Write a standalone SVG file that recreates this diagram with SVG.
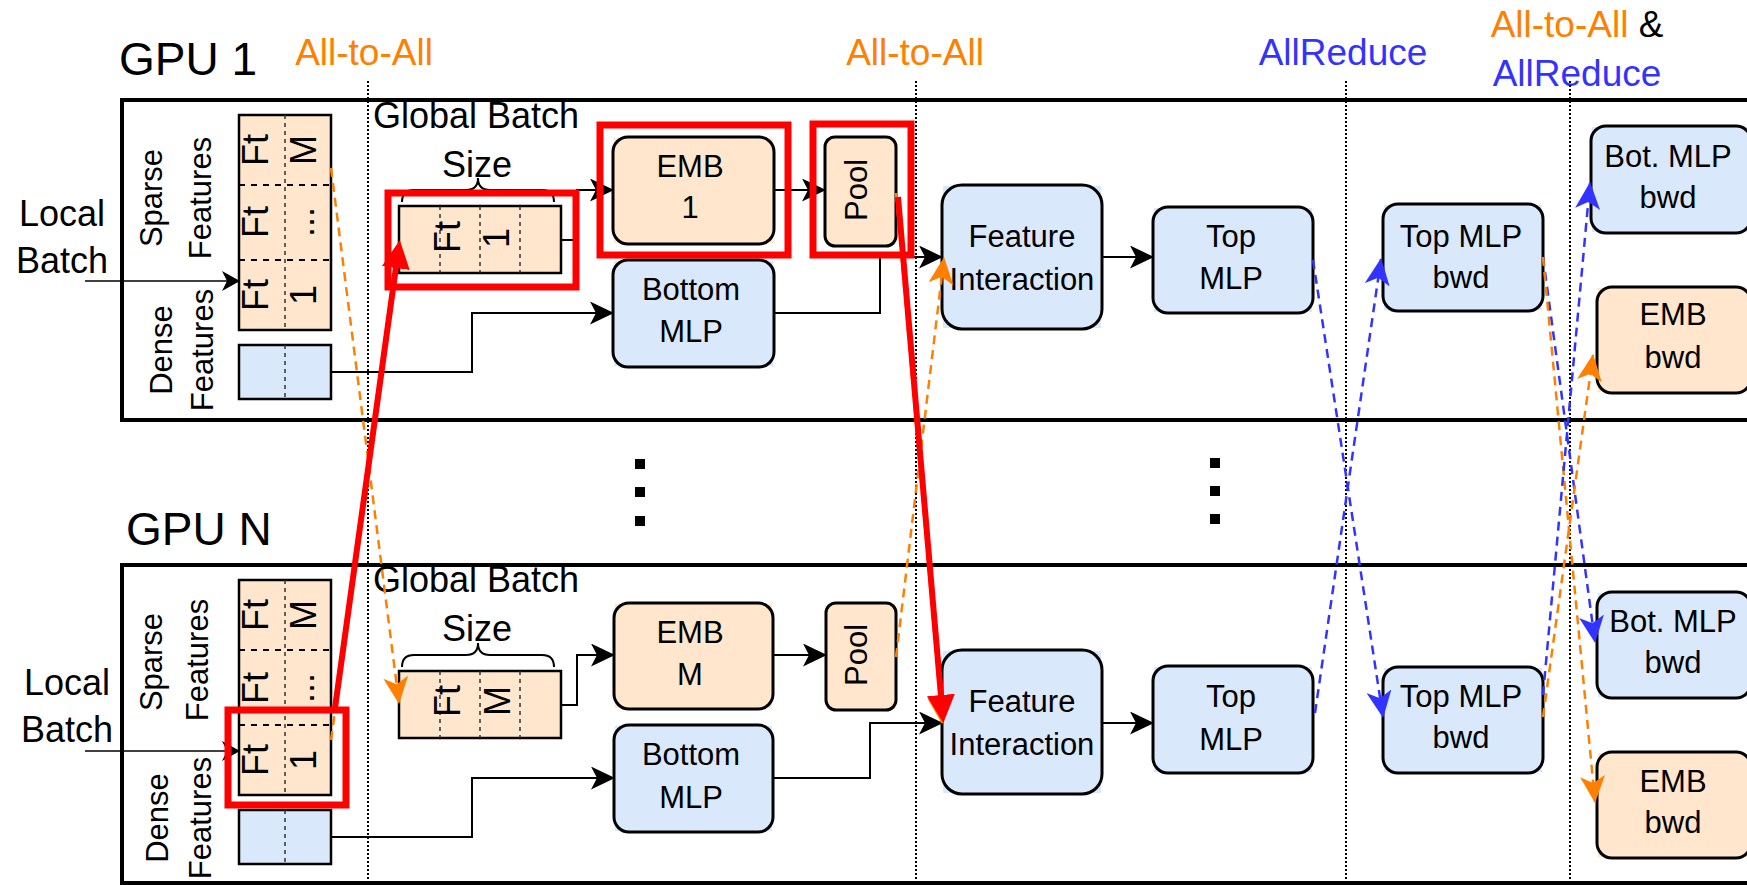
<svg xmlns="http://www.w3.org/2000/svg" width="1747" height="885" viewBox="0 0 1747 885">
<defs>
<style>
text{font-family:"Liberation Sans",Arial,Helvetica,sans-serif;fill:#000}
.title{font-size:46px}
.coll{font-size:37px;text-anchor:middle}
.or{fill:#FF8000}
.bl{fill:#3333FF}
.lbl{font-size:36px;text-anchor:middle}
.side{font-size:31px;text-anchor:middle}
.cell{font-size:36px;text-anchor:middle}
.nt{font-size:31px;text-anchor:middle}
.pool{font-size:31px;text-anchor:middle}
.gpu{fill:#fff;stroke:#000;stroke-width:4}
.blueF{fill:#DAE8FC}
.peachF{fill:#FFE6CC}
.box{stroke:#000;stroke-width:3}
.tbl{stroke:#000;stroke-width:2.5}
.hd{stroke:#000;stroke-width:2;stroke-dasharray:6 6;fill:none}
.vd{stroke:#333;stroke-width:1.5;stroke-dasharray:4 4;fill:none}
.sep{stroke:#000;stroke-width:2;stroke-dasharray:2 2;fill:none}
.wire{stroke:#000;stroke-width:2;fill:none;marker-end:url(#ah)}
.thin{stroke:#000;stroke-width:1.5;fill:none;marker-end:url(#ahs)}
.brace{stroke:#000;stroke-width:2;fill:none}
.oD{stroke:#FF8000;stroke-width:2.5;stroke-dasharray:9 6;fill:none;marker-end:url(#ao)}
.bD{stroke:#3333FF;stroke-width:2.5;stroke-dasharray:9 6;fill:none;marker-end:url(#ab)}
.hl{fill:none;stroke:#FF0000;stroke-width:7}
.rA{stroke:#FF0000;stroke-width:6;fill:none;marker-end:url(#ar)}
.dot{fill:#000}
</style>
<marker id="ah" markerUnits="userSpaceOnUse" markerWidth="24" markerHeight="23" refX="23" refY="11.5" orient="auto" viewBox="0 0 24 23"><path d="M0,0 L24,11.5 L0,23 L6,11.5 Z" fill="#000"/></marker>
<marker id="ahs" markerUnits="userSpaceOnUse" markerWidth="18" markerHeight="20" refX="17" refY="10" orient="auto" viewBox="0 0 18 20"><path d="M0,0 L18,10 L0,20 L5,10 Z" fill="#000"/></marker>
<marker id="ao" markerUnits="userSpaceOnUse" markerWidth="27" markerHeight="25" refX="26" refY="12.5" orient="auto" viewBox="0 0 27 25"><path d="M0,0 L27,12.5 L0,25 L7,12.5 Z" fill="#FF8000"/></marker>
<marker id="ab" markerUnits="userSpaceOnUse" markerWidth="27" markerHeight="25" refX="26" refY="12.5" orient="auto" viewBox="0 0 27 25"><path d="M0,0 L27,12.5 L0,25 L7,12.5 Z" fill="#3333FF"/></marker>
<marker id="ar" markerUnits="userSpaceOnUse" markerWidth="28" markerHeight="28" refX="1" refY="14" orient="auto" viewBox="0 0 28 28"><path d="M0,0 L28,14 L0,28 Z" fill="#FF0000"/></marker>
</defs>

<rect width="1747" height="885" fill="#fff"/>

<!-- collective labels -->
<g id="labels">
<text class="title" x="119" y="75">GPU 1</text>
<text class="title" x="126" y="545">GPU N</text>
<text class="coll or" x="364" y="65">All-to-All</text>
<text class="coll or" x="915" y="65">All-to-All</text>
<text class="coll bl" x="1343" y="65">AllReduce</text>
<text class="coll" x="1577" y="37"><tspan class="or">All-to-All</tspan> &amp;</text>
<text class="coll bl" x="1577" y="86">AllReduce</text>
</g>

<!-- GPU frames -->
<g id="gpu-1"><rect class="gpu" x="122" y="100" width="1700" height="320"/></g>
<g id="gpu-n"><rect class="gpu" x="122" y="565" width="1700" height="318"/></g>

<!-- stage separators -->
<g id="separators">
<path class="sep" d="M368,81 V885 M916,81 V885 M1346,81 V885 M1570,81 V885"/>
</g>

<!-- ellipsis between GPUs -->
<g id="ellipsis">
<rect class="dot" x="635" y="459" width="10" height="10"/>
<rect class="dot" x="635" y="487" width="10" height="10"/>
<rect class="dot" x="635" y="516" width="10" height="10"/>
<rect class="dot" x="1210" y="458" width="10" height="10"/>
<rect class="dot" x="1210" y="486" width="10" height="10"/>
<rect class="dot" x="1210" y="514" width="10" height="10"/>
</g>

<!-- ===== GPU 1 ===== -->
<g id="local-batch-1">
<text class="lbl" x="62" y="226">Local</text>
<text class="lbl" x="62" y="273">Batch</text>
</g>
<g id="feature-labels-1">
<text class="side" transform="translate(162,198) rotate(-90)">Sparse</text>
<text class="side" transform="translate(211,198) rotate(-90)">Features</text>
<text class="side" transform="translate(172,350) rotate(-90)">Dense</text>
<text class="side" transform="translate(213,350) rotate(-90)">Features</text>
</g>
<g id="sparse-1">
<rect class="peachF tbl" x="239" y="115" width="92" height="215"/>
<path class="hd" d="M239,185 H331 M239,260 H331"/>
<path class="vd" d="M285,115 V330"/>
<text class="cell" transform="translate(268,150) rotate(-90)">Ft</text>
<text class="cell" transform="translate(268,222) rotate(-90)">Ft</text>
<text class="cell" transform="translate(268,295) rotate(-90)">Ft</text>
<text class="cell" transform="translate(316,150) rotate(-90)">M</text>
<text class="cell" transform="translate(314,222) rotate(-90)">...</text>
<text class="cell" transform="translate(316,295) rotate(-90)">1</text>
</g>
<g id="dense-1">
<rect class="blueF tbl" x="239" y="345" width="92" height="54"/>
<path class="vd" d="M285,345 V399"/>
</g>
<g id="global-batch-1">
<text class="lbl" x="476" y="128">Global Batch</text>
<text class="lbl" x="477" y="177">Size</text>
<path class="brace" d="M402,202 Q402,190 414,190 H466 Q478,190 478,178 Q478,190 490,190 H542 Q554,190 554,202"/>
<rect class="peachF tbl" x="399" y="206" width="162" height="67"/>
<path class="vd" d="M440,206 V273 M480,206 V273 M520,206 V273"/>
<text class="cell" transform="translate(460,237) rotate(-90)">Ft</text>
<text class="cell" transform="translate(509,238) rotate(-90)">1</text>
</g>
<g id="emb-1">
<rect class="peachF" x="614" y="138" width="159" height="105"/>
<rect class="peachF box" x="613" y="137" width="161" height="107" rx="15"/>
<text class="nt" x="690" y="177">EMB</text>
<text class="nt" x="690" y="218">1</text>
</g>
<g id="pool-1">
<rect class="peachF" x="826" y="138" width="69" height="107"/>
<rect class="peachF box" x="825" y="137" width="71" height="109" rx="10"/>
<text class="pool" transform="translate(867,190) rotate(-90)">Pool</text>
</g>
<g id="bottom-mlp-1">
<rect class="blueF" x="614" y="261" width="159" height="105"/>
<rect class="blueF box" x="613" y="260" width="161" height="107" rx="15"/>
<text class="nt" x="691" y="300">Bottom</text>
<text class="nt" x="691" y="342">MLP</text>
</g>
<g id="feature-interaction-1">
<rect class="blueF" x="943" y="186" width="158" height="142"/>
<rect class="blueF box" x="942" y="185" width="160" height="144" rx="20"/>
<text class="nt" x="1022" y="247">Feature</text>
<text class="nt" x="1022" y="290">Interaction</text>
</g>
<g id="top-mlp-1">
<rect class="blueF" x="1154" y="208" width="158" height="104"/>
<rect class="blueF box" x="1153" y="207" width="160" height="106" rx="15"/>
<text class="nt" x="1231" y="247">Top</text>
<text class="nt" x="1231" y="289">MLP</text>
</g>
<g id="top-mlp-bwd-1">
<rect class="blueF" x="1384" y="205" width="158" height="105"/>
<rect class="blueF box" x="1383" y="204" width="160" height="107" rx="15"/>
<text class="nt" x="1461" y="247">Top MLP</text>
<text class="nt" x="1461" y="288">bwd</text>
</g>
<g id="bot-mlp-bwd-1">
<rect class="blueF" x="1592" y="127" width="158" height="105"/>
<rect class="blueF box" x="1591" y="126" width="160" height="107" rx="15"/>
<text class="nt" x="1668" y="167">Bot. MLP</text>
<text class="nt" x="1668" y="208">bwd</text>
</g>
<g id="emb-bwd-1">
<rect class="peachF" x="1598" y="288" width="152" height="104"/>
<rect class="peachF box" x="1597" y="287" width="154" height="106" rx="15"/>
<text class="nt" x="1673" y="325">EMB</text>
<text class="nt" x="1673" y="368">bwd</text>
</g>

<!-- ===== GPU N ===== -->
<g id="local-batch-n">
<text class="lbl" x="67" y="695">Local</text>
<text class="lbl" x="67" y="742">Batch</text>
</g>
<g id="feature-labels-n">
<text class="side" transform="translate(162,662) rotate(-90)">Sparse</text>
<text class="side" transform="translate(208,660) rotate(-90)">Features</text>
<text class="side" transform="translate(168,818) rotate(-90)">Dense</text>
<text class="side" transform="translate(211,818) rotate(-90)">Features</text>
</g>
<g id="sparse-n">
<rect class="peachF tbl" x="239" y="580" width="92" height="215"/>
<path class="hd" d="M239,650 H331 M239,725 H331"/>
<path class="vd" d="M285,580 V795"/>
<text class="cell" transform="translate(268,615) rotate(-90)">Ft</text>
<text class="cell" transform="translate(268,688) rotate(-90)">Ft</text>
<text class="cell" transform="translate(268,760) rotate(-90)">Ft</text>
<text class="cell" transform="translate(316,615) rotate(-90)">M</text>
<text class="cell" transform="translate(314,688) rotate(-90)">...</text>
<text class="cell" transform="translate(316,760) rotate(-90)">1</text>
</g>
<g id="dense-n">
<rect class="blueF tbl" x="239" y="810" width="92" height="54"/>
<path class="vd" d="M285,810 V864"/>
</g>
<g id="global-batch-n">
<text class="lbl" x="476" y="592">Global Batch</text>
<text class="lbl" x="477" y="641">Size</text>
<path class="brace" d="M402,667 Q402,655 414,655 H466 Q478,655 478,643 Q478,655 490,655 H542 Q554,655 554,667"/>
<rect class="peachF tbl" x="399" y="671" width="162" height="67"/>
<path class="vd" d="M440,671 V738 M480,671 V738 M520,671 V738"/>
<text class="cell" transform="translate(460,701) rotate(-90)">Ft</text>
<text class="cell" transform="translate(510,701) rotate(-90)">M</text>
</g>
<g id="emb-n">
<rect class="peachF" x="615" y="604" width="157" height="104"/>
<rect class="peachF box" x="614" y="603" width="159" height="106" rx="15"/>
<text class="nt" x="690" y="643">EMB</text>
<text class="nt" x="690" y="685">M</text>
</g>
<g id="pool-n">
<rect class="peachF" x="827" y="604" width="68" height="105"/>
<rect class="peachF box" x="826" y="603" width="70" height="107" rx="10"/>
<text class="pool" transform="translate(867,655) rotate(-90)">Pool</text>
</g>
<g id="bottom-mlp-n">
<rect class="blueF" x="615" y="726" width="157" height="105"/>
<rect class="blueF box" x="614" y="725" width="159" height="107" rx="15"/>
<text class="nt" x="691" y="765">Bottom</text>
<text class="nt" x="691" y="808">MLP</text>
</g>
<g id="feature-interaction-n">
<rect class="blueF" x="943" y="651" width="158" height="142"/>
<rect class="blueF box" x="942" y="650" width="160" height="144" rx="20"/>
<text class="nt" x="1022" y="712">Feature</text>
<text class="nt" x="1022" y="755">Interaction</text>
</g>
<g id="top-mlp-n">
<rect class="blueF" x="1154" y="667" width="158" height="105"/>
<rect class="blueF box" x="1153" y="666" width="160" height="107" rx="15"/>
<text class="nt" x="1231" y="707">Top</text>
<text class="nt" x="1231" y="750">MLP</text>
</g>
<g id="top-mlp-bwd-n">
<rect class="blueF" x="1384" y="668" width="158" height="104"/>
<rect class="blueF box" x="1383" y="667" width="160" height="106" rx="15"/>
<text class="nt" x="1461" y="707">Top MLP</text>
<text class="nt" x="1461" y="748">bwd</text>
</g>
<g id="bot-mlp-bwd-n">
<rect class="blueF" x="1598" y="593" width="152" height="104"/>
<rect class="blueF box" x="1597" y="592" width="154" height="106" rx="15"/>
<text class="nt" x="1673" y="632">Bot. MLP</text>
<text class="nt" x="1673" y="673">bwd</text>
</g>
<g id="emb-bwd-n">
<rect class="peachF" x="1598" y="753" width="152" height="104"/>
<rect class="peachF box" x="1597" y="752" width="154" height="106" rx="15"/>
<text class="nt" x="1673" y="792">EMB</text>
<text class="nt" x="1673" y="833">bwd</text>
</g>

<!-- connectors -->
<g id="connectors">
<path class="thin" d="M85,281 H239"/>
<path class="wire" d="M561,240 H577 V190 H613"/>
<path class="wire" d="M774,190 H825"/>
<path class="wire" d="M331,372 H472 V313 H613"/>
<path class="wire" d="M774,313 H880 V257 H942"/>
<path class="wire" d="M1102,257 H1153"/>
<path class="thin" d="M85,751 H239"/>
<path class="wire" d="M561,705 H577 V655 H614"/>
<path class="wire" d="M773,655 H826"/>
<path class="wire" d="M331,837 H472 V778 H614"/>
<path class="wire" d="M773,778 H870 V723 H942"/>
<path class="wire" d="M1102,723 H1153"/>
<!-- all-to-all: sparse features to global batch -->
<path class="oD" d="M331,168 L399,703"/>
<path class="oD" d="M331,740 L400,242"/>
<!-- all-to-all: pooled embeddings to feature interaction -->
<path class="oD" d="M896,657 L944,258"/>
<path class="oD" d="M896,193 L942,723"/>
<!-- allreduce: top MLP gradients -->
<path class="bD" d="M1313,260 L1383,717"/>
<path class="bD" d="M1315,713 L1381,259"/>
<!-- all-to-all and allreduce: embedding / bottom MLP gradients -->
<path class="bD" d="M1543,257 L1595,642"/>
<path class="oD" d="M1543,257 L1595,802"/>
<path class="bD" d="M1543,695 L1590,183"/>
<path class="oD" d="M1543,717 L1593,355"/>
</g>

<!-- highlighted data path -->
<g id="highlight">
<rect class="hl" x="388" y="193" width="188" height="94"/>
<rect class="hl" x="600" y="125" width="188" height="130"/>
<rect class="hl" x="813" y="124" width="98" height="131"/>
<rect class="hl" x="228" y="710" width="118" height="95"/>
<path class="rA" d="M335,708 L396,267"/>
<path class="rA" d="M898,197 L941,696"/>
</g>
</svg>
